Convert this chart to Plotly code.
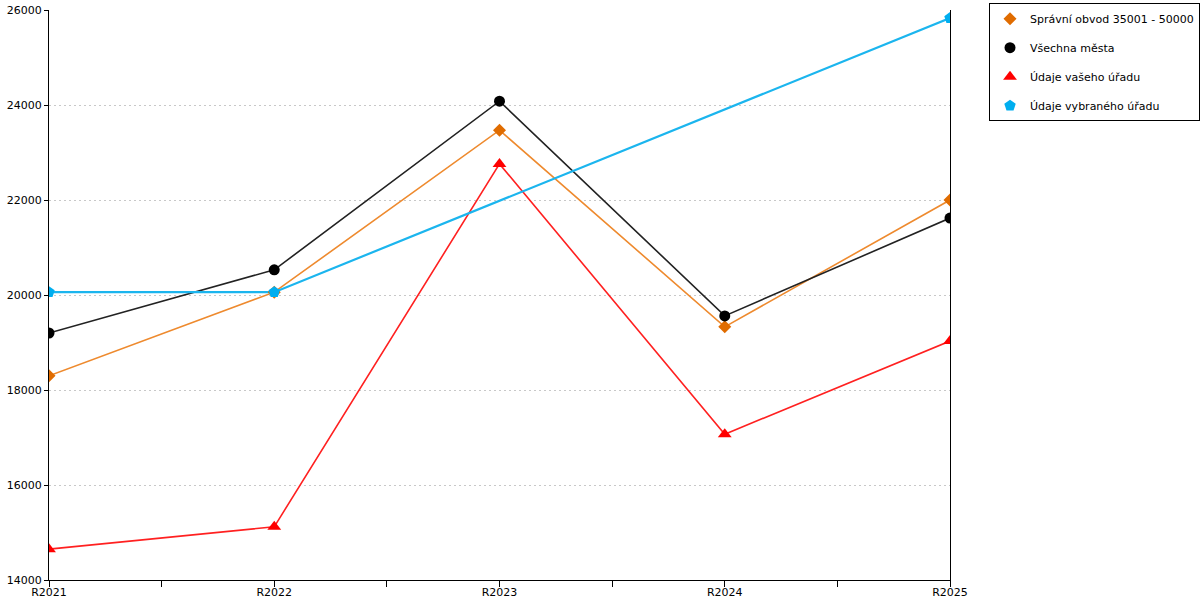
import plotly.graph_objects as go

years = ['R2021', 'R2022', 'R2023', 'R2024', 'R2025']
x_idx = list(range(len(years)))

spravni_obvod = [18300, 20060, 23470, 19330, 22000]
vsechna_mesta = [19200, 20530, 24080, 19560, 21620]
vas_urad = [14650, 15120, 22760, 17070, 19030]
vybrany_urad = [20060, 20060, None, None, 25830]

y_ticks = [14000, 16000, 18000, 20000, 22000, 24000, 26000]

series = [
    ('Správní obvod 35001 - 50000', spravni_obvod, '#EE8A2E', 1.6, 'diamond', 10, '#E06C00'),
    ('Všechna města', vsechna_mesta, '#222222', 1.6, 'circle', 11, '#000000'),
    ('Údaje vašeho úřadu', vas_urad, '#FF2020', 1.6, 'triangle-up', 12, '#FF0000'),
    ('Údaje vybraného úřadu', vybrany_urad, '#1BB5EE', 2.2, 'pentagon', 12, '#00AEEF'),
]

fig = go.Figure()

# lines first (no legend), markers on top so the legend shows only the marker
for i, (name, vals, lc, lw, sym, ms, mc) in enumerate(series):
    fig.add_trace(go.Scatter(x=x_idx, y=vals, mode='lines', connectgaps=True,
                             line=dict(color=lc, width=lw), showlegend=False,
                             hoverinfo='skip', legendgroup=str(i)))
for i, (name, vals, lc, lw, sym, ms, mc) in enumerate(series):
    fig.add_trace(go.Scatter(x=x_idx, y=vals, mode='markers', name=name,
                             legendgroup=str(i),
                             marker=dict(symbol=sym, size=ms, color=mc)))

fig.update_layout(
    width=1200, height=600,
    margin=dict(l=49, r=250, t=10, b=20, autoexpand=False),
    plot_bgcolor='white', paper_bgcolor='white',
    font=dict(family='DejaVu Sans', size=11, color='black'),
    legend=dict(x=1.0433, y=1.012, xanchor='left', yanchor='top',
                bordercolor='black', borderwidth=1, itemwidth=30,
                font=dict(size=11), traceorder='grouped', tracegroupgap=10),
)
fig.update_xaxes(
    range=[0, 4], tickvals=x_idx, ticktext=years,
    showline=True, linecolor='black', linewidth=1,
    ticks='outside', ticklen=5, tickcolor='black', ticklabelstandoff=-3,
    showgrid=False, zeroline=False,
    minor=dict(dtick=0.5, tick0=0.5, ticks='outside', ticklen=6, tickcolor='black', showgrid=False),
)
fig.update_yaxes(
    range=[14000, 26000], tickvals=y_ticks, tickformat='d',
    showline=True, linecolor='black', linewidth=1, mirror=True,
    ticks='outside', ticklen=4, tickcolor='black',
    showgrid=True, gridcolor='#C8C8C8', griddash='2px,3px', gridwidth=1,
    zeroline=False,
)

# the page's default 8px body margin would push the figure off the window
fig.write_html('out.html', config={'displayModeBar': False},
               post_script="document.body.style.margin='0';")
